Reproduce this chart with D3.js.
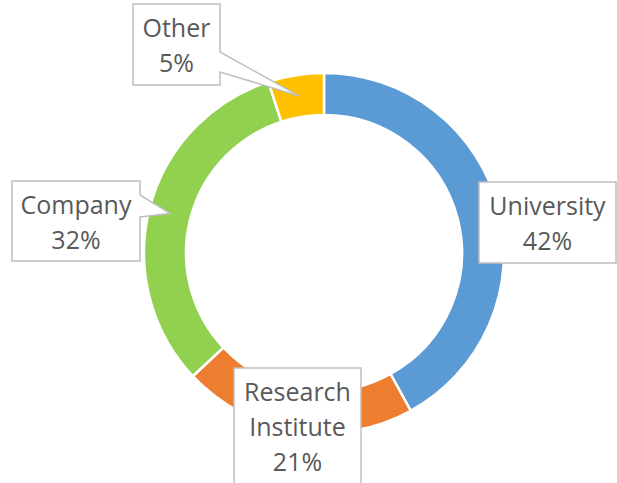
<!DOCTYPE html>
<html lang="en">
<head>
    <meta charset="UTF-8">
    <title>Affiliation Donut</title>
    <script src="https://d3js.org/d3.v7.min.js"></script>
    <style>
        body { margin: 0; background: #fff; }
        svg { display: block; }
        .label text { font-family: "Open Sans", sans-serif; font-size: 25px; fill: #595959; }
    </style>
</head>
<body>
    <svg id="chart"></svg>
    <script>
        // Data
        const categories = ["University", "Research Institute", "Company", "Other"];
        const shares = [42, 21, 32, 5];
        const colors = ["#5b9bd5", "#ed7d31", "#92d050", "#ffc000"];

        // Label boxes (layout): top-left corner, size, and whether a callout pointer is drawn
        const labelBoxes = [
            { x: 479, y: 182, w: 137, h: 81, lines: ["University"], pointer: null },
            { x: 234, y: 368, w: 127, h: 118, lines: ["Research", "Institute"], pointer: null },
            { x: 12, y: 181, w: 128, h: 80, lines: ["Company"], pointer: [195, 217] },
            { x: 133, y: 4, w: 87, h: 81, lines: ["Other"], pointer: [52, 72] }
        ];

        const width = 617, height = 483;
        const cx = 324, cy = 253;
        const outerR = 180, innerR = 138;

        const svg = d3.select("#chart")
            .attr("width", width)
            .attr("height", height);

        const pie = d3.pie().sort(null).value(d => d.value);
        const data = pie(categories.map((c, i) => ({ name: c, value: shares[i], color: colors[i] })));

        const arc = d3.arc().innerRadius(innerR).outerRadius(outerR);
        const g = svg.append("g").attr("transform", `translate(${cx},${cy})`);

        g.selectAll("path.slice")
            .data(data)
            .enter()
            .append("path")
            .attr("class", "slice")
            .attr("d", arc)
            .attr("fill", d => d.data.color)
            .attr("stroke", "#fff")
            .attr("stroke-width", 2.5);

        // Labels with callout boxes
        const midArc = d3.arc().innerRadius((innerR + outerR) / 2).outerRadius((innerR + outerR) / 2);
        const lineH = 35;

        data.forEach((d, i) => {
            const b = labelBoxes[i];
            const lab = svg.append("g").attr("class", "label");
            const [tx, ty] = midArc.centroid(d);
            let pathD;
            if (b.pointer) {
                const r = b.x + b.w, bt = b.y + b.h;
                pathD = `M${b.x},${b.y} H${r} V${b.pointer[0]} L${cx + tx},${cy + ty} L${r},${b.pointer[1]} V${bt} H${b.x} Z`;
            } else {
                pathD = `M${b.x},${b.y} h${b.w} v${b.h} h${-b.w} Z`;
            }
            lab.append("path")
                .attr("d", pathD)
                .attr("fill", "#fff")
                .attr("stroke", "#bfbfbf")
                .attr("stroke-width", 1.5);

            const lines = b.lines.concat([d3.format(".0f")(d.data.value) + "%"]);
            const firstBase = b.y + 33;
            lines.forEach((t, k) => {
                lab.append("text")
                    .attr("x", b.x + b.w / 2)
                    .attr("y", firstBase + k * lineH)
                    .attr("text-anchor", "middle")
                    .text(t);
            });
        });
    </script>
</body>
</html>
